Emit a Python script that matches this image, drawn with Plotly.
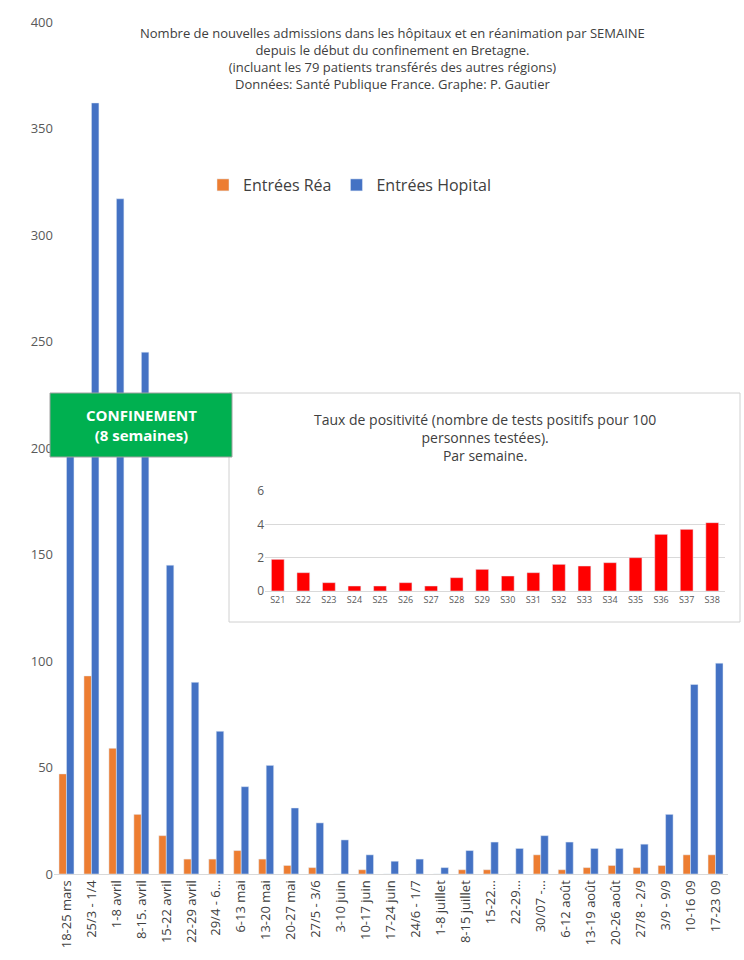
import plotly.graph_objects as go

categories = ["18-25 mars","25/3 - 1/4","1-8 avril","8-15. avril","15-22 avril","22-29 avril","29/4 - 6…",
              "6-13 mai","13-20 mai","20-27 mai","27/5 - 3/6","3-10 juin","10-17 juin","17-24 juin",
              "24/6 - 1/7","1-8 juillet","8-15 juillet","15-22…","22-29…","30/07 -…","6-12 août",
              "13-19 août","20-26 août","27/8 - 2/9","3/9 - 9/9","10-16 09","17-23 09"]
rea = [47,93,59,28,18,7,7,11,7,4,3,0,2,0,0,0,2,2,0,9,2,3,4,3,4,9,9]
hopital = [215,362,317,245,145,90,67,41,51,31,24,16,9,6,7,3,11,15,12,18,15,12,12,14,28,89,99]
weeks = ["S21","S22","S23","S24","S25","S26","S27","S28","S29","S30","S31","S32","S33","S34","S35","S36","S37","S38"]
taux = [1.9,1.1,0.5,0.3,0.3,0.5,0.3,0.8,1.3,0.9,1.1,1.6,1.5,1.7,2.0,3.4,3.7,4.1]

font = "Open Sans"
fig = go.Figure()
fig.add_bar(x=categories, y=rea, name="Entrées Réa", marker_color="#ED7D31")
fig.add_bar(x=categories, y=hopital, name="Entrées Hopital", marker_color="#4472C4")
fig.add_bar(x=weeks, y=taux, xaxis="x2", yaxis="y2", marker_color="#FF0000", showlegend=False, width=0.5)

L, R, T, B = 54, 16, 22, 86
W, H = 744 - L - R, 960 - T - B
px = lambda v: (v - L) / W
py = lambda v: (960 - B - v) / H

fig.update_layout(
    width=744, height=960, margin=dict(l=L, r=R, t=T, b=B),
    paper_bgcolor="white", plot_bgcolor="white",
    font=dict(family=font, color="#595959", size=13),
    barmode="group", bargap=0.4, bargroupgap=0,
    xaxis=dict(tickangle=-90, showgrid=False, showline=True, linecolor="#D9D9D9", tickfont=dict(size=13, color="#404040")),
    yaxis=dict(range=[0, 400], dtick=50, showgrid=False, zeroline=False, tickfont=dict(size=13)),
    xaxis2=dict(domain=[px(265), px(725)], anchor="y2", showgrid=False, showline=True, linecolor="#D9D9D9",
                tickfont=dict(size=9, color="#595959")),
    yaxis2=dict(domain=[py(591), py(491)], anchor="x2", range=[0, 6], dtick=2, showgrid=True,
                gridcolor="#D9D9D9", zeroline=False, tickfont=dict(size=12)),
    legend=dict(orientation="h", x=px(203), y=py(168), xanchor="left", yanchor="top",
                font=dict(size=16, color="#404040"), bgcolor="rgba(0,0,0,0)"),
    shapes=[
        dict(type="rect", xref="paper", yref="paper", x0=px(229), x1=px(740), y0=py(622), y1=py(393),
             fillcolor="white", line=dict(color="#D0D0D0", width=1), layer="below"),
        dict(type="rect", xref="paper", yref="paper", x0=px(50), x1=px(232), y0=py(457), y1=py(393),
             fillcolor="#00B050", line=dict(color="#A0A0A0", width=1), layer="above"),
    ],
    annotations=[
        dict(xref="paper", yref="paper", x=px(392), y=py(22), xanchor="center", yanchor="top", showarrow=False,
             text="Nombre de nouvelles admissions dans les hôpitaux et en réanimation par SEMAINE<br>depuis le début du confinement en Bretagne.<br>(incluant les 79 patients transférés des autres régions)<br>Données: Santé Publique France. Graphe: P. Gautier",
             font=dict(size=13, color="#404040")),
        dict(xref="paper", yref="paper", x=px(485), y=py(408), xanchor="center", yanchor="top", showarrow=False,
             text="Taux de positivité (nombre de tests positifs pour 100<br>personnes testées).<br>Par semaine.",
             font=dict(size=14, color="#404040")),
        dict(xref="paper", yref="paper", x=px(141), y=py(425), xanchor="center", yanchor="middle", showarrow=False,
             text="<b>CONFINEMENT<br>(8 semaines)</b>", font=dict(size=15, color="white")),
    ],
)
fig.write_html("out.html", config={"displayModeBar": False},
               post_script="document.body.style.margin='0';document.body.style.overflow='hidden';")
